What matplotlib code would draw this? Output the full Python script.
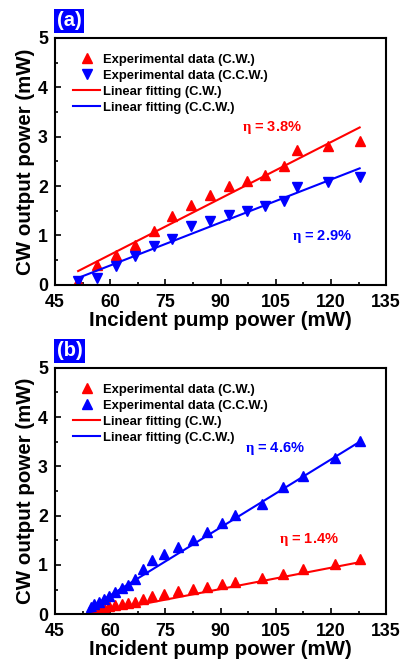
import numpy as np
import matplotlib
matplotlib.use("Agg")
import matplotlib.pyplot as plt
from matplotlib.ticker import MultipleLocator

plt.rcParams["font.family"] = ["Liberation Sans", "DejaVu Sans"]
plt.rcParams["font.weight"] = "bold"
plt.rcParams["mathtext.fontset"] = "custom"
plt.rcParams["mathtext.rm"] = "Liberation Serif"

RED = "#ff0000"
BLUE = "#0000ff"

# (a) pump power and output power for both directions
pump_a = [51.3, 56.5, 61.6, 66.7, 71.8, 76.9, 81.9, 87.1, 92.2, 97.1, 102.2, 107.3, 110.9, 119.2, 127.8]
cw_a = [0.08, 0.41, 0.61, 0.81, 1.10, 1.40, 1.61, 1.81, 2.01, 2.10, 2.22, 2.41, 2.73, 2.82, 2.91]
ccw_a = [0.07, 0.14, 0.39, 0.58, 0.78, 0.92, 1.19, 1.30, 1.42, 1.50, 1.59, 1.69, 1.98, 2.08, 2.19]

# (b)
pump_b = [54.7, 55.7, 56.9, 58.3, 59.6, 61.2, 63.1, 64.9, 66.7, 68.9, 71.5, 74.5,
          78.4, 82.5, 86.2, 90.3, 93.9, 101.3, 107.0, 112.4, 121.0, 127.8]
cw_b = [0.02, 0.06, 0.10, 0.13, 0.16, 0.18, 0.20, 0.22, 0.25, 0.31, 0.36, 0.41,
        0.47, 0.52, 0.56, 0.61, 0.66, 0.73, 0.82, 0.92, 1.02, 1.12]
ccw_b = [0.15, 0.20, 0.24, 0.30, 0.37, 0.45, 0.53, 0.60, 0.71, 0.91, 1.09, 1.22,
         1.37, 1.50, 1.66, 1.86, 2.02, 2.24, 2.58, 2.81, 3.18, 3.52]

# slope efficiencies and intercepts of the linear fits
eta_a = [0.038, 0.029]
icpt_a = [-1.67, -1.348]
fit_range_a = [51.3, 127.8]
eta_b = [0.0144, 0.046]
icpt_b = [-0.785, -2.379]
fit_range_b = [54.5, 127.8]


def draw_panel(ax, tag, pump, cw, ccw, eta, icpt, fit_range, ccw_marker, eta_pos):
    ax.plot(pump, cw, ls="none", marker="^", ms=7, color=RED, mec=RED, label="Experimental data (C.W.)")
    ax.plot(pump, ccw, ls="none", marker=ccw_marker, ms=7, color=BLUE, mec=BLUE, label="Experimental data (C.C.W.)")
    xf = np.array(fit_range)
    ax.plot(xf, eta[0] * xf + icpt[0], color=RED, lw=1.5, label="Linear fitting (C.W.)")
    ax.plot(xf, eta[1] * xf + icpt[1], color=BLUE, lw=1.5, label="Linear fitting (C.C.W.)")

    for e, (x, y), c in zip(eta, eta_pos, [RED, BLUE]):
        ax.text(x, y, r"$\mathrm{\eta}$ = %.1f%%" % (e * 100), color=c, fontsize=10.5, fontweight="bold")

    ax.set_xlim(45, 135)
    ax.set_ylim(0, 5)
    ax.xaxis.set_major_locator(MultipleLocator(15))
    ax.xaxis.set_minor_locator(MultipleLocator(7.5))
    ax.yaxis.set_major_locator(MultipleLocator(1))
    ax.yaxis.set_minor_locator(MultipleLocator(0.5))
    ax.tick_params(which="both", direction="in", top=False, right=False, width=1.2, labelsize=12.8)
    ax.tick_params(axis="x", pad=6.5)
    ax.tick_params(axis="y", pad=5)
    ax.tick_params(which="major", length=4)
    ax.tick_params(which="minor", length=2.5)
    for s in ax.spines.values():
        s.set_linewidth(1.5)
    ax.set_xlabel("Incident pump power (mW)", fontsize=14.8, fontweight="bold", labelpad=0)
    ax.set_ylabel("CW output power (mW)", fontsize=14.8, fontweight="bold")
    ax.yaxis.set_label_coords(-0.06, 0.5)
    ax.legend(loc="upper left", bbox_to_anchor=(0.039, 0.957), frameon=False, fontsize=9.4,
              handlelength=2.1, handletextpad=0.23, labelspacing=0.3, borderaxespad=0)
    ax.text(0.005, 1.03, tag, transform=ax.transAxes, color="white", fontsize=14.5, fontweight="bold",
            va="bottom", ha="left",
            bbox=dict(boxstyle="square,pad=0.12", fc=BLUE, ec="none"))


fig = plt.figure(figsize=(4.01, 6.64), dpi=100)
ax_a = fig.add_axes([0.137, 0.571, 0.826, 0.372])
ax_b = fig.add_axes([0.137, 0.075, 0.826, 0.371])

draw_panel(ax_a, "(a)", pump_a, cw_a, ccw_a, eta_a, icpt_a, fit_range_a, "v",
           [(95.7, 3.12), (109.3, 0.9)])
draw_panel(ax_b, "(b)", pump_b, cw_b, ccw_b, eta_b, icpt_b, fit_range_b, "^",
           [(105.9, 1.44), (96.6, 3.29)])

fig.savefig("out.png", dpi=100)
